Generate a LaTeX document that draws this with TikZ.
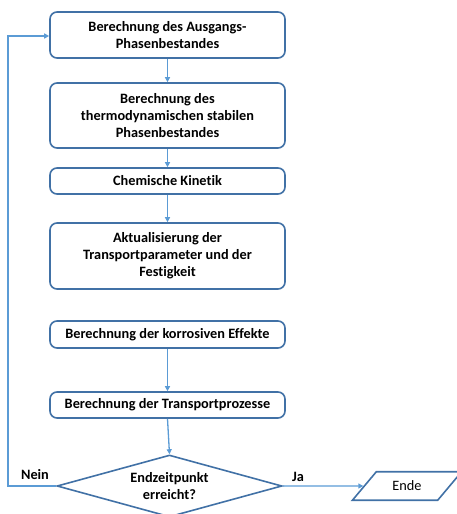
\documentclass[tikz,border=0pt]{standalone}
\usepackage{fontspec}
\setmainfont{Carlito}[Ligatures=CommonOff]
\usetikzlibrary{shapes.geometric,arrows.meta}
\definecolor{boxblue}{RGB}{65,113,166}
\definecolor{arrowblue}{RGB}{91,155,213}
\tikzset{
  stepbox/.style={draw=boxblue, line width=1.6pt, rounded corners=7pt, fill=white, font=\bfseries\fontsize{14.3}{17}\selectfont, align=center, minimum width=235pt, inner sep=2pt},
  conn/.style={draw=arrowblue, line width=1.3pt, -{Triangle[length=5pt,width=5pt]}},
  lbl/.style={font=\bfseries\fontsize{14.3}{17}\selectfont}
}
\begin{document}
\begin{tikzpicture}[x=1pt,y=1pt]
\useasboundingbox (0,0) rectangle (457,-514);
\node[stepbox, minimum height=46pt] (b1) at (167.5,-35) {Berechnung des Ausgangs-\\Phasenbestandes};
\node[stepbox, minimum height=65pt] (b2) at (167.5,-115.5) {Berechnung des\\thermodynamischen stabilen\\Phasenbestandes};
\node[stepbox, minimum height=26pt] (b3) at (167.5,-181) {Chemische Kinetik};
\node[stepbox, minimum height=66pt] (b4) at (167.5,-256) {Aktualisierung der\\Transportparameter und der\\Festigkeit};
\node[stepbox, minimum height=27pt] (b5) at (167.5,-334.5) {Berechnung der korrosiven Effekte};
\node[stepbox, minimum height=26pt] (b6) at (167.5,-405) {Berechnung der Transportprozesse};
\node[draw=boxblue, line width=1.6pt, diamond, aspect=3.6, minimum width=225pt, minimum height=62pt, inner sep=0pt, align=center, font=\bfseries\fontsize{14.3}{17}\selectfont] (d) at (169.5,-486) {Endzeitpunkt\\erreicht?};
\node[draw=boxblue, line width=1.6pt, trapezium, trapezium left angle=50, trapezium right angle=130, minimum height=26pt, minimum width=110pt, font=\fontsize{14.3}{17}\selectfont] (e) at (407,-486) {Ende};
\coordinate (l1) at (8,-486);
\coordinate (l2) at (8,-36);
\draw[conn] (b1) -- (b2);
\draw[conn] (b2) -- (b3);
\draw[conn] (b3) -- (b4);
\draw[conn] (b5) -- (b6);
\draw[conn] (b6.south) -- (d.north);
\draw[conn] (d.east) -- (e.west);
\draw[conn] (d.west) -- (l1) -- (l2) -- (b1.west |- l2);
\node[lbl] (nein) at (35,-475) {Nein};
\node[lbl] (ja) at (298,-477) {Ja};
\end{tikzpicture}
\end{document}
